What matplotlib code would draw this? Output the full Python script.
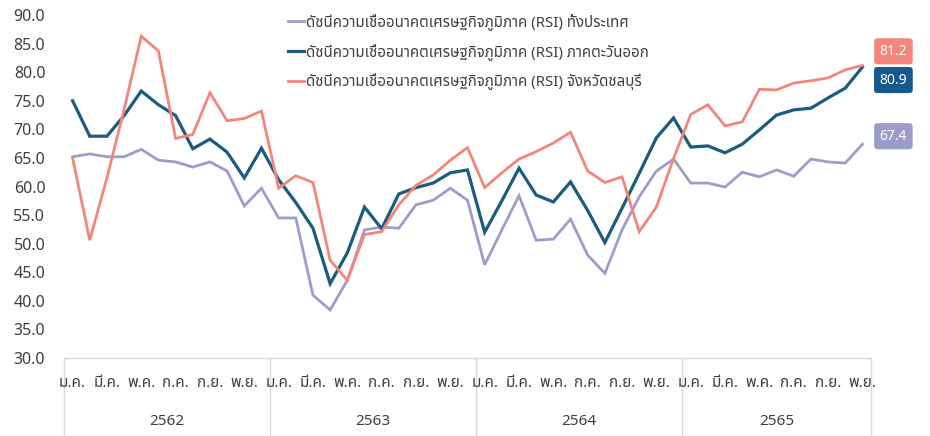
import matplotlib
matplotlib.use("Agg")
import matplotlib.pyplot as plt
import matplotlib.transforms as mtransforms
from matplotlib import font_manager
from matplotlib.ft2font import FT2Font

# ---- data -------------------------------------------------------------
years = ["2562", "2563", "2564", "2565"]
months = ["ม.ค.", "ก.พ.", "มี.ค.", "เม.ย.", "พ.ค.", "มิ.ย.",
          "ก.ค.", "ส.ค.", "ก.ย.", "ต.ค.", "พ.ย.", "ธ.ค."]
months_per_year = [12, 12, 12, 11]

rsi_country = [65.2, 65.7, 65.2, 65.2, 66.5, 64.6, 64.3, 63.4, 64.3, 62.7, 56.6, 59.7,
               54.5, 54.5, 41.0, 38.4, 43.6, 52.4, 52.9, 52.7, 56.8, 57.6, 59.7, 57.6,
               46.3, 52.4, 58.4, 50.6, 50.8, 54.3, 48.0, 44.8, 52.4, 58.2, 62.7, 64.8,
               60.6, 60.6, 59.9, 62.5, 61.7, 62.9, 61.8, 64.8, 64.3, 64.1, 67.4]
rsi_east = [75.0, 68.8, 68.8, 72.4, 76.7, 74.3, 72.4, 66.6, 68.3, 66.0, 61.5, 66.7,
            61.2, 57.2, 52.7, 43.0, 48.4, 56.4, 52.6, 58.7, 59.8, 60.6, 62.4, 62.9,
            52.0, 57.5, 63.2, 58.5, 57.3, 60.8, 55.8, 50.2, 56.2, 62.3, 68.5, 72.0,
            66.9, 67.1, 65.9, 67.4, 69.9, 72.5, 73.4, 73.7, 75.5, 77.2, 80.9]
rsi_chonburi = [65.0, 50.6, 61.5, 73.5, 86.3, 83.7, 68.4, 69.1, 76.4, 71.5, 71.9, 73.2,
                59.7, 61.9, 60.7, 47.1, 43.6, 51.6, 52.1, 56.8, 60.2, 62.0, 64.6, 66.8,
                59.8, 62.4, 64.8, 66.1, 67.6, 69.5, 62.7, 60.7, 61.7, 52.1, 56.4, 64.9,
                72.6, 74.3, 70.6, 71.3, 77.0, 76.9, 78.1, 78.5, 79.0, 80.4, 81.2]

labels = ["ดัชนีความเชื่ออนาคตเศรษฐกิจภูมิภาค (RSI) ทั้งประเทศ",
          "ดัชนีความเชื่ออนาคตเศรษฐกิจภูมิภาค (RSI) ภาคตะวันออก",
          "ดัชนีความเชื่ออนาคตเศรษฐกิจภูมิภาค (RSI) จังหวัดชลบุรี"]
colors = ["#9d9dcc", "#1b5b80", "#f4857b"]
box_colors = ["#9c9ccb", "#16598c", "#f4877b"]


# ---- font with Thai glyphs --------------------------------------------
def find_thai_font():
    preferred = ["Noto Sans Thai", "Noto Sans Thai UI", "Kanit", "Prompt",
                 "Sarabun", "Loma", "Garuda", "Umpush", "Waree", "Tlwg Typist"]
    found = []
    for f in font_manager.fontManager.ttflist:
        try:
            if FT2Font(f.fname).get_char_index(ord("ก")):
                found.append(f.name)
        except Exception:
            pass
    for name in preferred:
        if name in found:
            return name
    return found[0] if found else "DejaVu Sans"


plt.rcParams["font.family"] = [find_thai_font(), "DejaVu Sans"]
text_color = "#3f3f3f"

# ---- plot ------------------------------------------------------------
fig = plt.figure(figsize=(9.3, 4.36), dpi=100)
ax = fig.add_axes([64 / 930, 1 - 358 / 436, 807 / 930, 343 / 436])

x = list(range(sum(months_per_year)))
series = [rsi_country, rsi_east, rsi_chonburi]
widths = [2.0, 2.3, 2.0]
for vals, lab, col, lw in zip(series, labels, colors, widths):
    ax.plot(x, vals, color=col, lw=lw, label=lab, solid_joinstyle="miter")

ax.set_xlim(-0.5, len(x) - 0.5)
ax.set_ylim(30, 90)
ax.set_yticks(range(30, 91, 5))
ax.set_yticklabels([f"{v:.1f}" for v in range(30, 91, 5)])
ax.tick_params(axis="y", length=0, pad=13.5, labelsize=11.5, labelcolor=text_color)

for side in ["left", "right", "top"]:
    ax.spines[side].set_visible(False)
ax.spines["bottom"].set_color("#d9d9d9")
ax.spines["bottom"].set_linewidth(1.0)

# month and year category labels
ax.set_xticks([])
trans = mtransforms.blended_transform_factory(ax.transData, ax.transAxes)
start = 0
for yr, n in zip(years, months_per_year):
    for m in range(0, n, 2):
        ax.text(start + m, -0.074, months[m], transform=trans, ha="center",
                va="center", fontsize=11, color=text_color)
    ax.text(start + (n - 1) / 2, -0.186, yr, transform=trans, ha="center",
            va="center", fontsize=11, color=text_color)
    start += n
bounds = [-0.5]
for n in months_per_year:
    bounds.append(bounds[-1] + n)
for b in bounds:
    ax.plot([b, b], [0, -0.235], transform=trans, color="#d9d9d9", lw=1.0,
            clip_on=False)

# legend
ax.legend(loc="upper left", bbox_to_anchor=(282 / 930, 1 - 7 / 436),
          bbox_transform=fig.transFigure, frameon=False, fontsize=10.8,
          handlelength=1.05, handletextpad=0.15, labelspacing=0.88,
          labelcolor=text_color, borderaxespad=0)

# end-of-series value boxes
offsets = [(31, 8), (31, -13), (31, 14)]
for vals, bc, off in zip(series, box_colors, offsets):
    ax.annotate(f"{vals[-1]:.1f}", xy=(x[-1], vals[-1]), xytext=off,
                textcoords="offset pixels", ha="center", va="center",
                fontsize=10, color="white", annotation_clip=False,
                bbox=dict(boxstyle="round,pad=0.4,rounding_size=0.25",
                          fc=bc, ec="none"))

fig.savefig("out.png", dpi=100)
